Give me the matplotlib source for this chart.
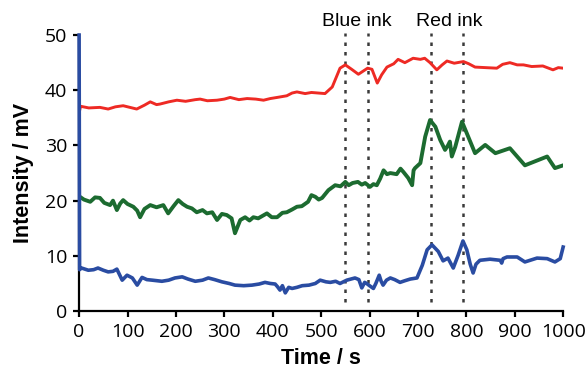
"""Intensity traces with ink markers."""
import matplotlib
matplotlib.use('Agg')
import matplotlib.pyplot as plt

# red trace
red_t = [0, 3, 20, 43, 60, 75, 91, 105, 119, 135, 147, 160, 167, 185, 202, 220, 240, 250,
         265, 285, 300, 312, 330, 347, 365, 381, 395, 409, 429, 440, 450, 467, 480, 494,
         508, 523, 539, 550, 563, 577, 596, 605, 616, 625, 636, 650, 659, 673, 690, 705,
         714, 725, 739, 750, 760, 775, 794, 805, 818, 840, 863, 875, 890, 905, 918, 935,
         958, 970, 979, 990, 1000]
red_v = [35.9, 37.1, 36.8, 36.9, 36.6, 37.0, 37.2, 36.9, 36.6, 37.3, 37.9, 37.4, 37.5, 37.9,
         38.2, 38.0, 38.3, 38.4, 38.1, 38.2, 38.4, 38.7, 38.3, 38.5, 38.4, 38.2, 38.5, 38.7,
         39.0, 39.5, 39.7, 39.4, 39.6, 39.5, 39.4, 40.6, 44.0, 44.6, 43.8, 42.9, 44.0, 43.8,
         41.3, 42.8, 44.2, 44.8, 45.6, 45.0, 45.8, 45.6, 45.8, 45.0, 43.7, 44.6, 45.3, 44.9,
         45.2, 44.8, 44.2, 44.1, 44.0, 44.7, 45.0, 44.6, 44.6, 44.3, 44.4, 44.0, 43.7, 44.1,
         44.0]

# green trace
green_t = [0, 10, 23, 33, 43, 52, 64, 70, 78, 85, 91, 100, 112, 120, 126, 135, 147, 160,
           174, 184, 195, 205, 214, 223, 233, 243, 255, 264, 275, 285, 295, 305, 315, 322,
           333, 343, 352, 360, 370, 378, 388, 398, 409, 420, 429, 440, 450, 460, 473, 480,
           488, 495, 502, 515, 529, 540, 550, 557, 565, 576, 584, 591, 601, 608, 615, 622,
           629, 636, 643, 656, 664, 670, 680, 688, 691, 694, 705, 715, 725, 736, 746, 756,
           762, 766, 770, 777, 791, 801, 818, 839, 860, 890, 921, 967, 983, 1000]
green_v = [20.8, 20.2, 19.8, 20.6, 20.5, 19.6, 19.2, 20.0, 18.3, 19.5, 20.1, 19.4, 18.9,
           18.2, 17.0, 18.5, 19.2, 18.8, 19.2, 17.7, 19.0, 20.1, 19.4, 18.9, 18.6, 17.9,
           18.3, 17.7, 17.9, 16.5, 17.6, 17.4, 16.8, 14.1, 16.5, 17.0, 16.4, 17.0, 16.8,
           17.2, 17.7, 17.0, 17.0, 17.8, 17.9, 18.4, 18.9, 19.0, 19.8, 21.0, 20.7, 20.2,
           20.5, 21.9, 22.8, 22.6, 23.4, 22.8, 23.2, 23.4, 22.9, 23.2, 22.5, 23.0, 22.8,
           24.0, 25.5, 24.8, 25.0, 24.8, 25.8, 25.2, 24.1, 22.8, 25.5, 25.9, 26.8, 31.6,
           34.6, 33.4, 31.0, 29.2, 30.0, 30.7, 28.0, 29.7, 34.3, 32.2, 28.6, 30.1, 28.6,
           29.5, 26.4, 28.0, 25.9, 26.4]

# blue trace
blue_t = [0, 1, 5, 19, 30, 39, 50, 60, 70, 78, 89, 99, 110, 120, 130, 140, 151, 171, 185,
          198, 213, 225, 240, 255, 267, 280, 295, 310, 322, 340, 357, 372, 384, 395, 405,
          410, 415, 420, 426, 433, 440, 450, 461, 475, 488, 498, 510, 519, 530, 539, 553,
          570, 578, 584, 590, 594, 600, 608, 613, 620, 624, 628, 635, 643, 652, 663, 673,
          684, 698, 709, 719, 729, 742, 752, 762, 773, 783, 793, 801, 808, 814, 820, 828,
          849, 870, 873, 876, 884, 905, 921, 946, 967, 983, 994, 1000]
blue_v = [50.0, 7.5, 7.8, 7.4, 7.5, 7.8, 7.4, 7.1, 7.2, 7.6, 5.6, 6.5, 6.0, 4.7, 6.1, 5.7,
          5.6, 5.4, 5.6, 6.0, 6.2, 5.8, 5.4, 5.6, 6.0, 5.7, 5.3, 5.0, 4.7, 4.6, 4.7, 4.9,
          5.2, 5.0, 4.9, 4.4, 3.8, 4.6, 3.3, 4.3, 4.1, 4.3, 4.6, 4.7, 5.0, 5.6, 5.3, 5.2,
          5.4, 5.0, 5.6, 6.0, 5.7, 4.2, 5.2, 5.0, 4.6, 4.1, 5.0, 6.5, 5.4, 4.7, 5.6, 6.0,
          5.7, 5.2, 5.5, 5.8, 6.0, 8.3, 11.1, 12.0, 10.8, 9.1, 9.6, 7.8, 10.1, 12.7, 11.1,
          8.5, 6.9, 8.5, 9.2, 9.4, 9.2, 8.7, 9.5, 9.8, 9.8, 8.9, 9.6, 9.5, 8.9, 9.5, 11.6]

# ink markers
blue_ink = [550, 597]
red_ink = [728, 793]

fig = plt.figure(figsize=(5.86, 3.73), dpi=100)
ax = fig.add_axes([0.135, 0.166, 0.826, 0.740])

ax.plot(red_t, red_v, color='#EE2A24', lw=2.1, zorder=3)
ax.plot(green_t, green_v, color='#1C6B30', lw=2.8, zorder=3)
ax.plot(blue_t, blue_v, color='#2A4CA2', lw=2.6, zorder=4, clip_on=False)

for x in blue_ink + red_ink:
    ax.plot([x, x], [1.6, 50.4], color='#3a3a3a', lw=1.8,
            linestyle=(0, (1.4, 2.4)), clip_on=False, zorder=2)

ax.text(sum(blue_ink) / 2, 52.4, 'Blue ink', ha='center', va='center',
        fontsize=14, family='Liberation Sans')
ax.text(sum(red_ink) / 2 + 5, 52.4, 'Red ink', ha='center', va='center',
        fontsize=14, family='Liberation Sans')

ax.set_xlim(0, 1000)
ax.set_ylim(0, 50)
ax.set_xticks(range(0, 1001, 100))
ax.set_yticks(range(0, 51, 10))
for s in ['top', 'right']:
    ax.spines[s].set_visible(False)
for s in ['left', 'bottom']:
    ax.spines[s].set_linewidth(1.6)
ax.tick_params(direction='out', length=4.5, width=1.6, labelsize=14, pad=4)
for lab in ax.get_xticklabels() + ax.get_yticklabels():
    lab.set_family('Open Sans')

ax.set_xlabel('Time / s', fontsize=15.5, fontweight='bold', family='Liberation Sans', labelpad=5)
ax.set_ylabel('Intensity / mV', fontsize=15.5, fontweight='bold', family='Liberation Sans', labelpad=8)

fig.savefig('out.png', dpi=100)
